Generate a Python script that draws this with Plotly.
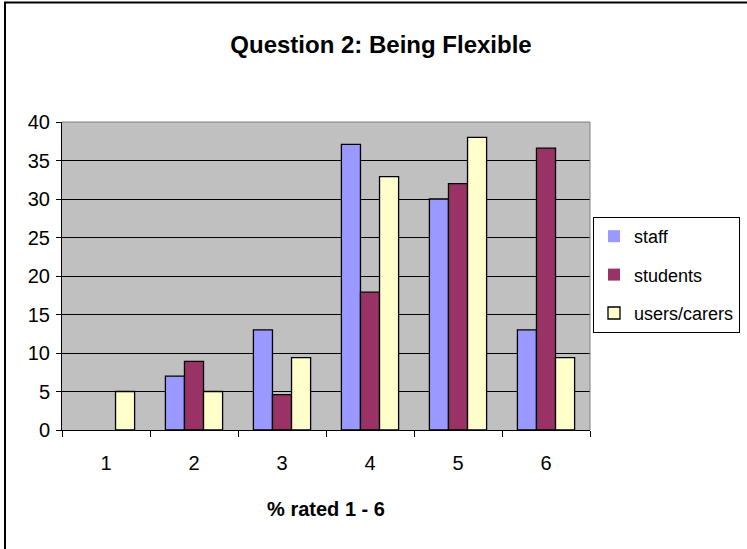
import plotly.graph_objects as go

# Ratings 1-6 and the percentage of each group giving that rating
ratings = ["1", "2", "3", "4", "5", "6"]
staff = [0, 7, 13, 37.1, 30, 13]
students = [0, 8.9, 4.6, 17.9, 32, 36.6]
users_carers = [5, 5, 9.4, 32.9, 38, 9.4]

series_names = ["staff", "students", "users/carers"]
series_colors = ["#9999FF", "#993366", "#FFFFCC"]
y_ticks = [0, 5, 10, 15, 20, 25, 30, 35, 40]

FONT = "Liberation Sans, Arial, sans-serif"

fig = go.Figure()
for name, vals, col in zip(series_names, [staff, students, users_carers], series_colors):
    # no outline for empty bars so nothing is drawn at zero
    outline = [1.3 if v else 0 for v in vals]
    fig.add_trace(go.Bar(
        x=ratings, y=vals, name=name, legendgroup=name,
        marker=dict(color=col, line=dict(color="black", width=outline)),
    ))

W, H = 747, 549
L, R, T, B = 62, 590, 122, 430
pw, ph = R - L, B - T


def px_x(x):
    return (x - L) / pw


def px_y(y):
    return (B - y) / ph


fig.update_layout(
    width=W, height=H,
    margin=dict(l=L, r=W - R, t=T, b=H - B, autoexpand=False),
    paper_bgcolor="white",
    plot_bgcolor="#C0C0C0",
    barmode="group",
    bargap=0.35,
    bargroupgap=0,
    font=dict(family=FONT, color="black", size=20),
    title=dict(
        text="<b>Question 2: Being Flexible</b>",
        x=381 / W, xanchor="center", xref="container",
        y=1 - 45 / H, yanchor="middle",
        font=dict(family=FONT, size=24, color="black"),
    ),
    xaxis=dict(
        type="category",
        tickson="boundaries",
        ticks="outside", ticklen=6, tickcolor="black",
        showline=True, linecolor="black", linewidth=1,
        showgrid=False,
        ticklabelstandoff=15,
        tickfont=dict(size=20),
        title=dict(text="<b>% rated 1 - 6</b>", font=dict(size=20), standoff=28),
    ),
    yaxis=dict(
        range=[0, 40],
        tickvals=y_ticks,
        ticks="outside", ticklen=5, tickcolor="black",
        showline=True, linecolor="black", linewidth=1,
        showgrid=True, gridcolor="black", gridwidth=1,
        zeroline=False,
        ticklabelstandoff=2,
        tickfont=dict(size=20),
    ),
    legend=dict(
        xref="container", yref="container",
        x=593 / W, y=1 - 217 / H, xanchor="left", yanchor="top",
        bgcolor="white", bordercolor="black", borderwidth=1,
        font=dict(size=18),
        itemwidth=30,
        traceorder="grouped",
        tracegroupgap=12,
    ),
    shapes=[
        # gray frame on the top and right of the plotting area
        dict(type="line", xref="paper", yref="paper", x0=0, x1=1, y0=1, y1=1,
             line=dict(color="#808080", width=1)),
        dict(type="line", xref="paper", yref="paper", x0=1, x1=1, y0=0, y1=1,
             line=dict(color="#808080", width=1)),
        # outer chart border
        dict(type="rect", xref="paper", yref="paper",
             x0=px_x(5), x1=px_x(800), y0=px_y(2.5), y1=px_y(600),
             line=dict(color="black", width=2), layer="above"),
    ],
)

fig.write_html("out.html")
